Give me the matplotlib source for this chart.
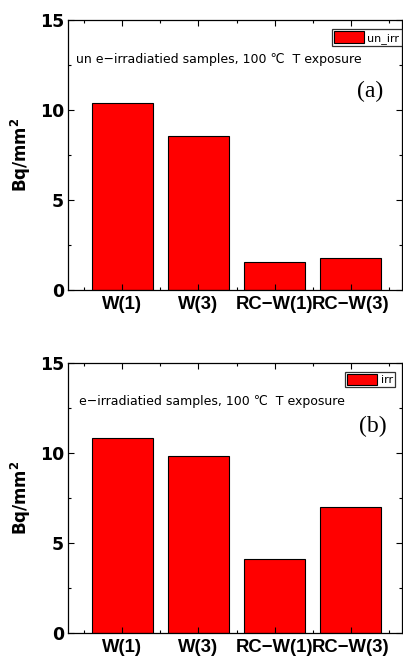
import matplotlib
matplotlib.use("Agg")
import matplotlib.pyplot as plt
from matplotlib.ticker import MultipleLocator

# data
samples = ["W(1)", "W(3)", "RC−W(1)", "RC−W(3)"]
un_irr = [10.37, 8.55, 1.54, 1.80]
irr = [10.81, 9.83, 4.14, 7.00]

notes = ["un e−irradiatied samples, 100 ℃  T exposure",
         "e−irradiatied samples, 100 ℃  T exposure"]
tags = ["(a)", "(b)"]
labels = ["un_irr", "irr"]

fig = plt.figure(figsize=(4.03, 6.64), dpi=100)
ax_a = fig.add_axes([0.1695, 0.5633, 0.8272, 0.4066])
ax_b = fig.add_axes([0.1695, 0.0462, 0.8272, 0.4076])

# axes, values, legend anchor, note x, tag position
panels = [(ax_a, un_irr, (1.0, 0.9665), 0.023, (0.945, 0.737)),
          (ax_b, irr, (0.98, 0.967), 0.031, (0.956, 0.766))]

for i, (ax, vals, leg_xy, note_x, tag_xy) in enumerate(panels):
    x = range(len(samples))
    ax.bar(x, vals, width=0.8, color="#ff0000", edgecolor="black",
           linewidth=0.8, label=labels[i])
    ax.set_xlim(-0.71, 3.67)
    ax.set_ylim(0, 15)
    ax.set_xticks(list(x))
    ax.set_xticklabels(samples, fontsize=13.3, fontweight="bold",
                       family="Liberation Sans")
    ax.xaxis.set_minor_locator(MultipleLocator(0.5))
    ax.yaxis.set_major_locator(MultipleLocator(5))
    ax.yaxis.set_minor_locator(MultipleLocator(2.5))
    ax.tick_params(which="both", direction="in", top=True, right=True, width=0.8)
    ax.tick_params(which="major", length=4, pad=3)
    ax.tick_params(which="minor", length=2.5)
    ax.tick_params(axis="x", which="major", pad=4)
    for t in ax.get_yticklabels():
        t.set_fontsize(12.5)
        t.set_fontweight("bold")
    for s in ax.spines.values():
        s.set_linewidth(0.9)
    ax.set_ylabel(r"Bq/mm$^\mathbf{2}$", fontsize=12, fontweight="bold")
    ax.yaxis.set_label_coords(-0.105, 0.5)

    ax.text(note_x, 0.855, notes[i], transform=ax.transAxes, fontsize=9,
            family=["DejaVu Sans", "Noto Sans CJK JP"], va="center")
    ax.text(tag_xy[0], tag_xy[1], tags[i], transform=ax.transAxes,
            fontsize=17, family="Liberation Serif", ha="right", va="center")

    leg = ax.legend(loc="upper right", bbox_to_anchor=leg_xy,
                    fontsize=8, frameon=True, fancybox=False,
                    edgecolor="black", handlelength=2.7, handleheight=1.2,
                    handletextpad=0.3, borderpad=0.2, borderaxespad=0)
    leg.get_frame().set_linewidth(0.9)

fig.savefig("out.png", dpi=100)
